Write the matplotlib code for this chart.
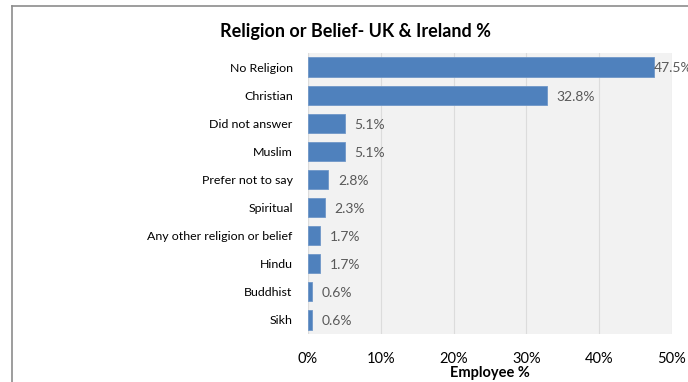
import matplotlib.pyplot as plt
from matplotlib.lines import Line2D

plt.rcParams['font.family'] = ['Lato', 'DejaVu Sans']

categories = ['No Religion', 'Christian', 'Did not answer', 'Muslim',
              'Prefer not to say', 'Spiritual', 'Any other religion or belief',
              'Hindu', 'Buddhist', 'Sikh']
values = [47.5, 32.8, 5.1, 5.1, 2.8, 2.3, 1.7, 1.7, 0.6, 0.6]
xticks = [0, 10, 20, 30, 40, 50]

fig = plt.figure(figsize=(6.88, 3.82), dpi=100)
ax = fig.add_axes([308 / 688, 1 - 334 / 382, 364 / 688, 281 / 382])
ax.set_facecolor('#f2f2f2')

y = range(len(categories))
ax.barh(y, values, height=0.68, color='#4f81bd', edgecolor='#6f97c8',
        linewidth=0.6, zorder=3)
ax.set_ylim(len(categories) - 0.5, -0.5)
ax.set_xlim(0, 50)

for i, v in enumerate(values):
    pad = 0.05 if v > 45 else 1.3
    ax.text(v + pad, i + 0.05, f'{v:.1f}%', va='center', ha='left',
            fontsize=10, color='#595959', zorder=4)

ax.set_yticks(list(y))
ax.set_yticklabels(categories, fontsize=8.9, color='#000000')
ax.set_xticks(xticks)
ax.set_xticklabels([f'{t}%' for t in xticks], fontsize=10.5, color='#000000')
ax.tick_params(length=0)
ax.tick_params(axis='y', pad=11)
ax.tick_params(axis='x', pad=13)
ax.grid(axis='x', color='#dcdcdc', linewidth=0.8, zorder=0)
for s in ax.spines.values():
    s.set_visible(False)
ax.axvline(0, color='#dcdcdc', linewidth=0.8, zorder=2)

ax.set_xlabel('Employee %', fontsize=10.5, fontweight='bold', labelpad=0)
fig.text(355 / 688, 1 - 31 / 382, 'Religion or Belief- UK & Ireland %',
         ha='center', va='center', fontsize=13, fontweight='bold')

# outer chart frame (top and left edges)
fig.add_artist(Line2D([12 / 688, 12 / 688], [0, 1 - 5.5 / 382],
                      transform=fig.transFigure, color='#8c8c8c', linewidth=1.2))
fig.add_artist(Line2D([12 / 688, 1], [1 - 5.5 / 382, 1 - 5.5 / 382],
                      transform=fig.transFigure, color='#8c8c8c', linewidth=1.2))

fig.savefig('out.png', dpi=100)
